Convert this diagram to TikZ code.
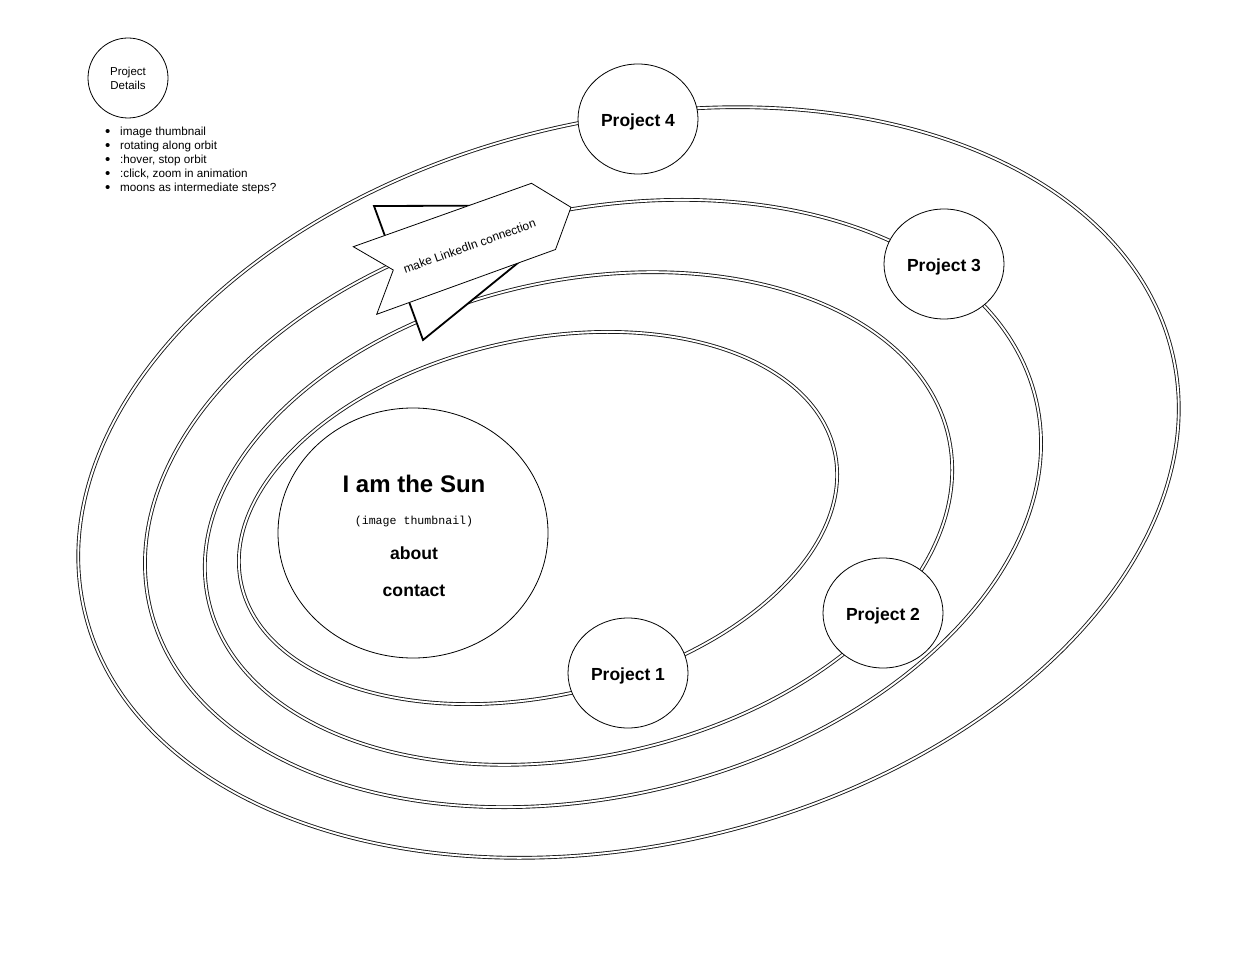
\documentclass[tikz,border=0pt]{standalone}
\usepackage{fontspec}
\setmainfont{Liberation Sans}
\setmonofont{Liberation Mono}
\usetikzlibrary{shapes.geometric}
\begin{document}
\begin{tikzpicture}[x=1pt,y=-1pt,
  orbit/.style={draw=black!90, line width=0.9pt, double=white, double distance=1.9pt},
  planet/.style={ellipse, draw=black, line width=0.8pt, fill=white, minimum width=120pt, minimum height=110pt, inner sep=0pt, text height=14.6pt, text depth=0pt, font=\fontsize{17.5}{20}\selectfont\bfseries},
  suntext/.style={inner sep=0pt, font=\fontsize{17.6}{20}\selectfont\bfseries},
  note/.style={anchor=base west, inner sep=0pt, font=\fontsize{11.7}{14}\selectfont},
  banner/.style={draw=black, line width=0.8pt, fill=white, line join=miter},
  wing/.style={draw=black, line width=1.8pt, fill=white, line join=miter}]
\useasboundingbox (0,0) rectangle (1257,965);
\fill[white] (0,0) rectangle (1257,965);

% orbits
\draw[orbit, rotate around={13.4:(628.5,482.5)}] (628.5,482.5) ellipse [x radius=559pt, y radius=362pt];
\draw[orbit, rotate around={13.2:(593,503.5)}] (593,503.5) ellipse [x radius=455pt, y radius=293pt];
\draw[orbit, rotate around={12.4:(578.5,518.5)}] (578.5,518.5) ellipse [x radius=379pt, y radius=238pt];
\draw[orbit, rotate around={12.7:(538,518)}] (538,518) ellipse [x radius=304pt, y radius=178pt];

% project details
\node[circle, draw=black, line width=0.8pt, minimum size=80pt, inner sep=0pt, align=center, font=\fontsize{11.5}{14}\selectfont] (details) at (128,78) {Project\\Details};
\newcommand{\blt}{\makebox[15pt][l]{\raisebox{-0.6pt}{\fontsize{15}{14}\selectfont •}}}
\node[note] (n1) at (105,136) {\blt image thumbnail};
\node[note] (n2) at (105,150) {\blt rotating along orbit};
\node[note] (n3) at (105,164) {\blt :hover, stop orbit};
\node[note] (n4) at (105,178) {\blt :click, zoom in animation};
\node[note] (n5) at (105,192) {\blt moons as intermediate steps?};

% wing behind banner
\coordinate (w1) at (374,206);
\coordinate (w2) at (540,205.5);
\coordinate (w3) at (540,245);
\coordinate (w4) at (423,340);
\draw[wing] (w1) -- (w2) -- (w3) -- (w4) -- cycle;

% banner
\coordinate (bA) at (353.3,246.7);
\coordinate (bN) at (393.3,270);
\coordinate (bB) at (376.7,314.3);
\coordinate (bC) at (555.5,249.5);
\coordinate (bD) at (571,207.3);
\coordinate (bE) at (531.5,183.3);
\draw[banner] (bA) -- (bN) -- (bB) -- (bC) -- (bD) -- (bE) -- cycle;
\node[rotate=19.7, inner sep=0pt, font=\fontsize{12}{14}\selectfont] (link) at (469.5,246) {make LinkedIn connection};

% sun
\node[ellipse, draw=black, line width=0.8pt, fill=white, minimum width=270pt, minimum height=250pt, inner sep=0pt] (sun) at (413,533) {};
\node[suntext, font=\fontsize{24}{28}\selectfont\bfseries] (suntitle) at (414,484) {I am the Sun};
\node[inner sep=0pt, font=\fontsize{11.6}{14}\selectfont\ttfamily] (thumb) at (414,521) {(image thumbnail)};
\node[suntext] (about) at (414,553) {about};
\node[suntext] (contact) at (414,590.5) {contact};

% planets
\node[planet] (p4) at (638,119) {Project 4};
\node[planet] (p3) at (944,264) {Project 3};
\node[planet] (p2) at (883,613) {Project 2};
\node[planet] (p1) at (628,673) {Project 1};
\end{tikzpicture}
\end{document}
